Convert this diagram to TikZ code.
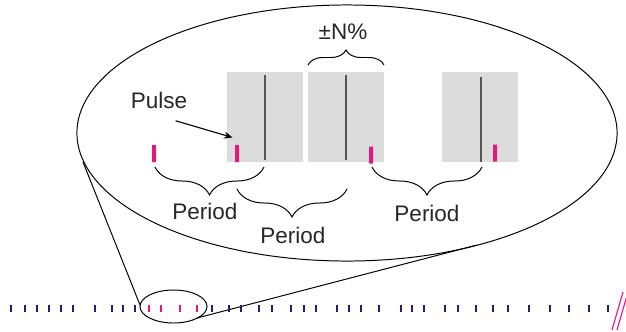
\documentclass[tikz,border=0pt]{standalone}
\usepackage{fontspec}
\setmainfont{Liberation Sans}
\usetikzlibrary{decorations.pathreplacing,arrows.meta,positioning}

\definecolor{pulsered}{HTML}{E2187F}
\definecolor{tickblue}{HTML}{241C6E}
\definecolor{slotgray}{HTML}{DCDCDC}
\definecolor{markgray}{HTML}{555555}

\tikzset{
  caption/.style={font=\fontsize{16}{19}\selectfont, text=black!85, inner sep=0pt},
  pulse/.style={fill=pulsered, rounded corners=0.3pt, minimum width=0.1cm, minimum height=0.425cm, inner sep=0pt},
  tickmark/.style={fill=tickblue, minimum width=0.06cm, minimum height=0.18cm, inner sep=0pt},
  hottick/.style={tickmark, fill=pulsered},
  slot/.style={fill=slotgray, minimum width=1.9cm, minimum height=2.25cm, inner sep=0pt},
  centremark/.style={draw=markgray, line width=0.9pt},
  periodbrace/.style={decorate, decoration={brace, mirror, amplitude=0.7cm}, line width=0.7pt},
  pointer/.style={-{Stealth[length=6pt, width=5pt]}, line width=0.8pt},
}

\begin{document}
\begin{tikzpicture}[x=0.025cm, y=-0.025cm, line width=0.7pt]
\useasboundingbox (0,0) rectangle (626,331);

% zoomed view
\draw (347,133) ellipse [x radius=6.75cm, y radius=3.2cm];
\draw (173.5,306.5) ellipse [x radius=0.8375cm, y radius=0.4125cm];
\coordinate (bigl) at (83,162);
\coordinate (bigr) at (477,245);
\coordinate (smalll) at (140,305);
\coordinate (smallr) at (197,318);
\draw (bigl) -- (smalll);
\draw (smallr) -- (bigr);

% tolerance slots
\node[slot] (s1) at (265,117) {};
\node[slot] (s2) at (346,117) {};
\node[slot] (s3) at (480,117) {};
\draw[centremark] (265,75) -- (265,160);
\draw[centremark] (346,75) -- (346,160);
\draw[centremark] (481,77) -- (481,162);

% pulses
\node[pulse] (p1) at (154,153.5) {};
\node[pulse] (p2) at (237,153.5) {};
\node[pulse] (p3) at (371,155) {};
\node[pulse] (p4) at (495,153) {};

\node[caption] (pulselbl) at (159,100) {Pulse};
\draw[pointer] ([xshift=-0.3cm, yshift=-0.3cm]pulselbl.south east) -- ([xshift=-0.05cm, yshift=0.175cm]p2.north west);

% periods
\draw[periodbrace] (155,167) -- (264,167);
\draw[periodbrace] (237,189) -- (347,189);
\draw[periodbrace] (372,167) -- (482,167);
\node[caption] (per1) at (205,211) {Period};
\node[caption] (per2) at (293,235) {Period};
\node[caption] (per3) at (427,213) {Period};

\draw[decorate, decoration={brace, amplitude=0.375cm}, line width=0.7pt] (308,65) -- (384,65);
\node[caption] (tol) at (343,32) {±N\%};

% pulse train
\foreach \x in {11,25,37,49,61,73,95,112,123,135,212,229,241,259,272,291,304,316,337,349,361,379,401,412,424,445,458,476,493,508,529,550,569,589,608}
  \node[tickmark] (t\x) at (\x,308.5) {};
\foreach \x in {149,161,180,197}
  \node[hottick] (t\x) at (\x,308.5) {};
\draw[pulsered, line width=0.8pt] (612,330) -- (623,292);
\draw[pulsered, line width=0.8pt] (617,330) -- (628,292);
\end{tikzpicture}
\end{document}
